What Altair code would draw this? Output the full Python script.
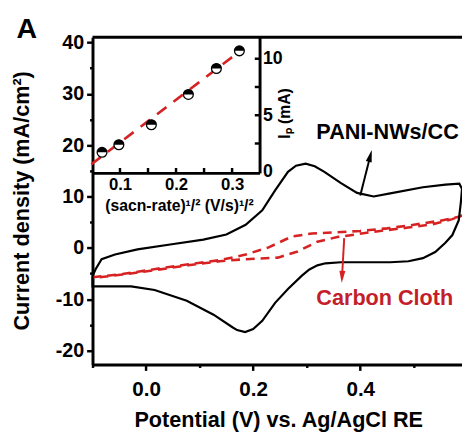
import altair as alt
import pandas as pd

FONT = "Liberation Sans"
RED = "#d62222"
RED_TEXT = "#c41e2a"

# ---- main CV curves (Potential V, current density mA/cm2) ----
pani_v = [-0.1, -0.094, -0.083, -0.058, -0.016, 0.045, 0.107, 0.150, 0.186, 0.217,
          0.241, 0.265, 0.280, 0.298, 0.315, 0.333, 0.364, 0.394, 0.425, 0.456,
          0.517, 0.559, 0.585, 0.590, 0.588, 0.584, 0.572, 0.559, 0.540, 0.517,
          0.490, 0.456, 0.364, 0.335, 0.320, 0.305, 0.291, 0.265, 0.241, 0.217,
          0.200, 0.185, 0.170, 0.162, 0.126, 0.076, 0.016, -0.028, -0.1, -0.1]
pani_i = [-5.5, -4.1, -2.2, -1.3, -0.3, 0.65, 1.6, 2.6, 4.5, 7.3,
          11.2, 14.8, 16.0, 16.4, 15.9, 14.8, 12.6, 10.7, 10.0, 10.6,
          11.8, 12.3, 12.5, 11.5, 9.0, 5.4, 2.5, 1.0, -0.8, -2.0,
          -2.6, -2.8, -2.8, -3.0, -3.4, -4.2, -5.4, -8.0, -10.7, -14.2,
          -15.8, -16.4, -16.0, -15.5, -13.0, -10.3, -8.2, -7.5, -7.5, -5.5]

cc_v = [-0.1, -0.044, 0.018, 0.079, 0.137, 0.186, 0.229, 0.272, 0.310, 0.350,
        0.400, 0.450, 0.500, 0.550, 0.584, 0.590, 0.572, 0.535, 0.486, 0.437,
        0.390, 0.357, 0.320, 0.283, 0.246, 0.186, 0.137, 0.079, 0.018, -0.044, -0.1]
cc_i = [-5.7, -5.1, -4.1, -3.2, -2.4, -1.3, 0.1, 2.2, 2.8, 3.0,
        3.3, 3.8, 4.5, 5.3, 6.05, 6.3, 5.6, 4.6, 3.9, 3.3,
        2.6, 2.1, 1.2, -0.7, -1.9, -2.2, -2.6, -3.4, -4.3, -5.2, -5.9]

# frame top edge
frame_v = [-0.1, 0.59]
frame_i = [41.0, 41.0]

# annotation arrows (V, I)
pani_arrow_v = [0.400, 0.4187]
pani_arrow_i = [10.2, 17.9]
cc_arrow_v = [0.370, 0.366]
cc_arrow_i = [1.9, -5.66]

labels_text = ["PANI-NWs/CC", "Carbon Cloth"]
labels_v = [0.318, 0.318]
labels_i = [22.6, -9.7]

main_x_ticks = [-0.1, 0.0, 0.1, 0.2, 0.3, 0.4, 0.5]
main_y_ticks = [-20, -15, -10, -5, 0, 5, 10, 15, 20, 25, 30, 35, 40]

# ---- inset: peak current vs sqrt(scan rate) ----
rate_sqrt = [0.068, 0.098, 0.156, 0.222, 0.272, 0.313]
peak_current = [1.72, 2.39, 4.16, 6.84, 9.14, 10.7]
fit_sqrt = [0.049, 0.319]
fit_current = [0.66, 10.86]

inset_x_ticks = [0.1, 0.15, 0.2, 0.25, 0.3]
inset_y_ticks = [2.5, 5, 7.5, 10]

# ---------------- encodings ----------------
X_main = alt.X(
    "V:Q",
    scale=alt.Scale(domain=[-0.1, 0.59], nice=False, zero=False),
    axis=alt.Axis(
        values=main_x_ticks,
        labelExpr="abs(round(datum.value*10)) % 2 == 1 ? '' : format(datum.value, '.1f')",
        tickSize={"condition": {"test": "abs(round(datum.value*10)) % 2 == 1", "value": 3}, "value": 6},
        tickWidth=2.5, tickColor="black",
        domainWidth=3, domainColor="black",
        labelFont=FONT, labelFontSize=21, labelFontWeight="bold", labelColor="black",
        labelPadding=9, grid=False,
        title="Potential (V) vs. Ag/AgCl RE",
        titleFont=FONT, titleFontSize=22, titleFontWeight="bold", titleColor="black",
        titleX=189, titleY=56, titleAlign="center", titleBaseline="middle",
    ),
)
Y_main = alt.Y(
    "I:Q",
    scale=alt.Scale(domain=[-22.7, 41.0], nice=False, zero=False),
    axis=alt.Axis(
        values=main_y_ticks,
        labelExpr="datum.value % 10 == 0 ? '' + datum.value : ''",
        tickSize={"condition": {"test": "datum.value % 10 != 0", "value": 3}, "value": 6},
        tickWidth=2.5, tickColor="black",
        domainWidth=3, domainColor="black",
        labelFont=FONT, labelFontSize=20, labelFontWeight="bold", labelColor="black",
        labelPadding=3, grid=False,
        title="Current density (mA/cm²)",
        titleFont=FONT, titleFontSize=22, titleFontWeight="bold", titleColor="black",
        titleX=-72, titleY=166, titleAngle=270, titleAlign="center", titleBaseline="middle",
    ),
)

X_in = alt.X(
    "s:Q",
    scale=alt.Scale(domain=[0.051, 0.349], range=[0, 170], nice=False, zero=False),
    axis=alt.Axis(
        orient="bottom", offset=-195,
        values=[0.1, 0.2, 0.3], format=".1f",
        tickSize=0, domainWidth=3, domainColor="black",
        labelFont=FONT, labelFontSize=17, labelFontWeight="bold", labelColor="black",
        labelPadding=4, grid=False,
        title="(sacn-rate)¹/² (V/s)¹/²",
        titleFont=FONT, titleFontSize=16, titleFontWeight="bold", titleColor="black",
        titleX=88, titleY=33, titleAlign="center", titleBaseline="middle",
    ),
)
Y_in = alt.Y(
    "Ip:Q",
    scale=alt.Scale(domain=[-0.1, 11.9], range=[138, 0], nice=False, zero=False),
    axis=alt.Axis(
        orient="right", offset=-206,
        values=[0, 5, 10],
        tickSize=0, domainWidth=3, domainColor="black",
        labelFont=FONT, labelFontSize=18, labelFontWeight="bold", labelColor="black",
        labelPadding=3, grid=False,
        title="Iₚ (mA)",
        titleFont=FONT, titleFontSize=16, titleFontWeight="bold", titleColor="black",
        titleX=25, titleY=77, titleAngle=270, titleAlign="center", titleBaseline="middle",
    ),
)

# ---------------- main layers ----------------
pani_df = pd.DataFrame({"V": pani_v, "I": pani_i, "k": range(len(pani_v))})
cc_df = pd.DataFrame({"V": cc_v, "I": cc_i, "k": range(len(cc_v))})
frame_df = pd.DataFrame({"V": frame_v, "I": frame_i})
pa_df = pd.DataFrame({"V": pani_arrow_v, "I": pani_arrow_i})
ca_df = pd.DataFrame({"V": cc_arrow_v, "I": cc_arrow_i})
lab_df = pd.DataFrame({"V": labels_v, "I": labels_i, "t": labels_text})

pani_line = alt.Chart(pani_df).mark_line(color="black", strokeWidth=2.2).encode(
    x=X_main, y=Y_main, order="k:Q")
cc_line = alt.Chart(cc_df).mark_line(color=RED, strokeWidth=2.6, strokeDash=[9, 6]).encode(
    x=X_main, y=Y_main, order="k:Q")
frame_line = alt.Chart(frame_df).mark_line(color="black", strokeWidth=3).encode(
    x=X_main, y=Y_main)

ARROW = "M 0 -1 L 0.5 1 L -0.5 1 Z"
pa_line = alt.Chart(pa_df).mark_line(color="black", strokeWidth=2).encode(x=X_main, y=Y_main)
pa_head = alt.Chart(pa_df.tail(1)).mark_point(
    shape=ARROW, filled=True, color="black", size=150, angle=14.5, opacity=1
).encode(x=X_main, y=Y_main)
ca_line = alt.Chart(ca_df).mark_line(color=RED, strokeWidth=2).encode(x=X_main, y=Y_main)
ca_head = alt.Chart(ca_df.tail(1)).mark_point(
    shape=ARROW, filled=True, color=RED, size=150, angle=183, opacity=1
).encode(x=X_main, y=Y_main)

labels = alt.Chart(lab_df).mark_text(
    align="left", baseline="middle", font=FONT, fontSize=22, fontWeight="bold"
).encode(
    x=X_main, y=Y_main, text="t:N",
    color=alt.Color("t:N", scale=alt.Scale(domain=labels_text, range=["black", RED_TEXT]), legend=None),
)

panel_letter = alt.Chart(pd.DataFrame({"t": ["A"]})).mark_text(
    align="center", baseline="middle", font=FONT, fontSize=29, fontWeight="bold", color="black"
).encode(x=alt.value(-67), y=alt.value(-8), text="t:N")

main = alt.layer(frame_line, cc_line, pani_line, pa_line, pa_head, ca_line, ca_head, labels, panel_letter)

# ---------------- inset layers ----------------
pts_df = pd.DataFrame({"s": rate_sqrt, "Ip": peak_current})
fit_df = pd.DataFrame({"s": fit_sqrt, "Ip": fit_current})
xt_df = pd.DataFrame({"s": inset_x_ticks, "Ip": [-0.1] * len(inset_x_ticks), "Ip_end": [0.33] * len(inset_x_ticks)})
yt_df = pd.DataFrame({"s": [0.349] * len(inset_y_ticks), "s_end": [0.3405] * len(inset_y_ticks), "Ip": inset_y_ticks})

fit_line = alt.Chart(fit_df).mark_line(color=RED, strokeWidth=2.6, strokeDash=[12, 9]).encode(x=X_in, y=Y_in)
pts_white = alt.Chart(pts_df).mark_point(
    shape="circle", filled=True, fill="white", stroke="black", strokeWidth=1.3, size=100, opacity=1
).encode(x=X_in, y=Y_in)
pts_half = alt.Chart(pts_df).mark_point(
    shape="M -1 0 A 1 1 0 0 1 1 0 Z", filled=True, color="black", size=100, opacity=1
).encode(x=X_in, y=Y_in)
xt_rules = alt.Chart(xt_df).mark_rule(color="black", strokeWidth=2.5).encode(x=X_in, y=Y_in, y2="Ip_end:Q")
yt_rules = alt.Chart(yt_df).mark_rule(color="black", strokeWidth=2.5).encode(x=X_in, x2="s_end:Q", y=Y_in)

inset = alt.layer(fit_line, pts_white, pts_half, xt_rules, yt_rules)

chart = alt.layer(main, inset).resolve_scale(x="independent", y="independent").properties(
    width=376, height=333, autosize="none",
    padding={"left": 86, "top": 26, "right": 0, "bottom": 70},
).configure_view(stroke=None)

chart.save("out.html", embed_options={"renderer": "svg", "actions": False})
